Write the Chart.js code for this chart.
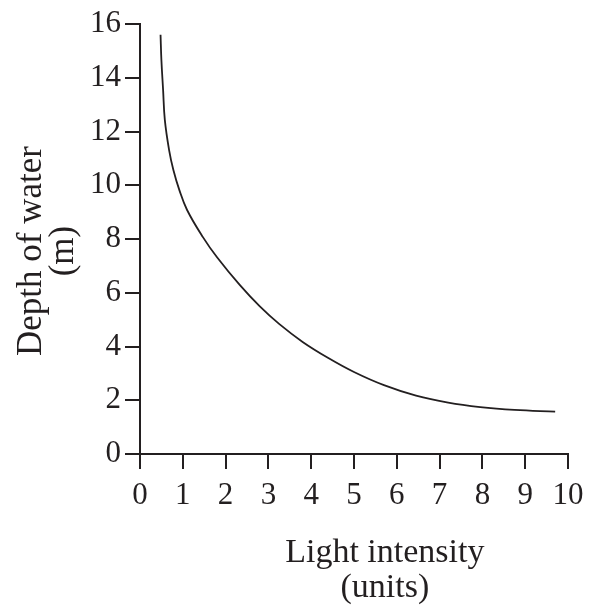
<!DOCTYPE html>
<html>
<head>
<meta charset="utf-8">
<script src="https://cdn.jsdelivr.net/npm/chart.js@4/dist/chart.umd.min.js"></script>
<style>
  html, body { margin: 0; padding: 0; background: #fff; }
  #wrap { width: 594px; height: 605px; }
</style>
</head>
<body>
<div id="wrap"><canvas id="chart" width="594" height="605"></canvas></div>
<script>
// values
const lightIntensity = [0.48, 0.50, 0.54, 0.58, 0.68, 0.78, 0.92, 1.10, 1.47, 1.80, 2.33, 2.80, 3.25, 3.80, 4.40, 5.00, 5.70, 6.45, 7.20, 7.95, 8.75, 9.70];
const depth = [15.6, 14.66, 13.54, 12.43, 11.31, 10.57, 9.82, 9.08, 8.07, 7.32, 6.29, 5.49, 4.84, 4.17, 3.57, 3.05, 2.56, 2.17, 1.91, 1.745, 1.64, 1.575];
const xTicks = [0, 1, 2, 3, 4, 5, 6, 7, 8, 9, 10];
const yTicks = [0, 2, 4, 6, 8, 10, 12, 14, 16];
const xTitle = ['Light intensity', '(units)'];
const yTitle = ['Depth of water', '(m)'];

const ink = '#231f20';
const serif = '"Liberation Serif", "DejaVu Serif", serif';

const points = lightIntensity.map((x, i) => ({ x: x, y: depth[i] }));

// axis titles sit off-centre in the original, so draw them by hand
const titlePlugin = {
    id: 'titles',
    afterDraw(chart) {
        const ctx = chart.ctx;
        const xs = chart.scales.x;
        const ys = chart.scales.y;
        ctx.save();
        ctx.fillStyle = ink;
        ctx.font = '34px ' + serif;
        ctx.textAlign = 'center';
        ctx.textBaseline = 'alphabetic';
        const cx = xs.getPixelForValue(5.72);
        ctx.fillText(xTitle[0], cx, 562);
        ctx.fillText(xTitle[1], cx, 597);

        const cy = ys.getPixelForValue(7.55);
        ctx.translate(41, cy);
        ctx.rotate(-Math.PI / 2);
        ctx.font = '35px ' + serif;
        ctx.fillText(yTitle[0], 0, 0);
        ctx.fillText(yTitle[1], 0, 32);
        ctx.restore();
    }
};

new Chart(document.getElementById('chart'), {
    type: 'scatter',
    data: {
        datasets: [{
            data: points,
            showLine: true,
            borderColor: ink,
            borderWidth: 1.8,
            pointRadius: 0,
            fill: false,
            tension: 0.4
        }]
    },
    options: {
        responsive: false,
        animation: false,
        layout: { padding: { left: 0, top: 24, right: 26, bottom: 0 } },
        plugins: { legend: { display: false }, tooltip: { enabled: false } },
        scales: {
            x: {
                type: 'linear',
                min: 0,
                max: 10,
                afterBuildTicks: s => { s.ticks = xTicks.map(v => ({ value: v })); },
                afterFit: s => { s.height = 151; },
                border: { color: ink, width: 2 },
                grid: { drawOnChartArea: false, drawTicks: true, tickLength: 15, tickColor: ink, lineWidth: 2 },
                ticks: { color: ink, font: { family: serif, size: 31 }, padding: 8, maxRotation: 0 }
            },
            y: {
                type: 'linear',
                min: 0,
                max: 16,
                afterBuildTicks: s => { s.ticks = yTicks.map(v => ({ value: v })); },
                afterFit: s => { s.width = 140; },
                border: { color: ink, width: 2 },
                grid: { drawOnChartArea: false, drawTicks: true, tickLength: 15, tickColor: ink, lineWidth: 2 },
                ticks: { color: ink, font: { family: serif, size: 31 }, padding: 4 }
            }
        }
    },
    plugins: [titlePlugin]
});
</script>
</body>
</html>
